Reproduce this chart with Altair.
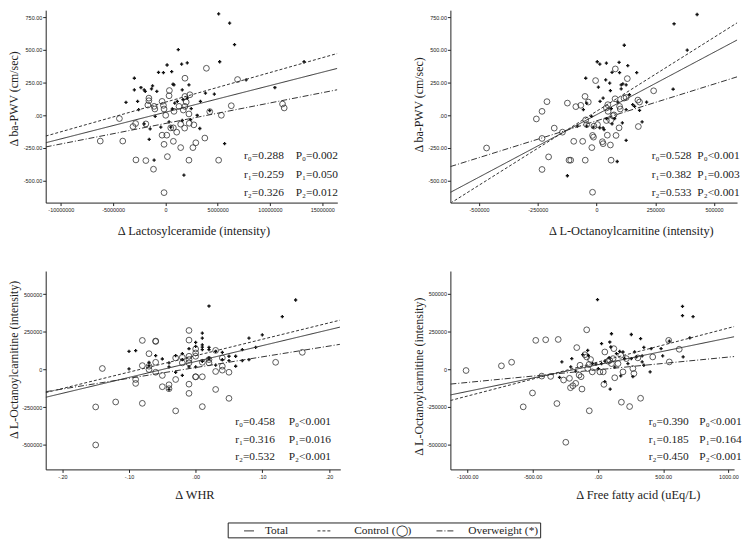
import altair as alt
import pandas as pd

SERIF = "Liberation Serif"
SANS = "Liberation Sans"
INK = "#222222"

# ---------------- Panel 1: Lactosylceramide (x, millions) vs ba-PWV ----------------
p1_ctrl_x = [-6.23, -4.08, -4.40, -3.10, -2.85, -2.82, -1.87, -1.14, -1.58, -1.58, -1.68, -1.87, -1.01, -1.08,
             -0.32, -0.19, -0.13, 0.38, 0.35, 0.03, -0.32, 0.13, -0.13, 0.19, 0.51, 0.76, 1.08, 0.76, 1.46, 1.87,
             1.87, 1.87, 1.71, 1.99, 2.25, 2.28, 2.34, 1.46, 1.84, 2.72, 2.63, 2.91, 3.77, 2.25, 3.92, 4.24, 5.09,
             5.35, 6.30, 6.90, 11.20, 11.36, -0.13, 0.82, 1.30]
p1_ctrl_y = [-197, -197, -25, -86, -63, -341, -346, -412, 131, 111, 78, -66, 48, 68, 106, 76, 48, 189, 149, 0,
             -152, -152, -222, -316, -96, -96, -129, -199, -68, 144, 283, 68, 40, 101, 10, -61, 157, -247, -98, -73,
             -247, -210, -174, -343, 359, 28, -343, 0, 73, 273, 86, 56, -591, 30, 68]
p1_ow_x = [5.09, 6.14, 6.61, 1.23, 1.55, 2.09, 5.19, 0.16, -0.66, -0.19, 0.60, -2.97, -2.97, -2.34, -2.03, -1.93,
           -1.33, -1.23, -0.82, -3.77, -2.66, -2.56, -2.03, -1.46, -0.98, -0.44, 0.35, 0.51, 0.66, 0.89, 0.73, 0.82,
           1.14, 1.61, 1.68, 2.25, 2.47, 2.41, 3.04, 3.35, 3.29, 3.83, 4.68, 4.24, 7.72, 10.47, 13.26, -1.55, -1.08,
           1.77, 5.66, 2.09, 1.61]
p1_ow_y = [775, 704, 540, 502, 391, 401, 409, 384, 328, 326, 333, 283, 194, 212, 194, 182, 202, 225, 182, 98, 106,
           43, -66, -104, -8, -91, -51, -91, 48, 93, 237, 232, 106, 194, 119, 232, 51, -33, 0, 106, -101, 169, 162,
           35, 270, 212, 409, -184, -343, -457, -217, 131, -40]
p1_line_x = [-11.45, 16.44]
p1_total = [-210, 358]
p1_control = [-159, 472]
p1_overweight = [-242, 195]
p1_r = ["r\u2080=0.288", "r\u2081=0.259", "r\u2082=0.326"]
p1_p = ["P\u2080=0.002", "P\u2081=0.050", "P\u2082=0.012"]

# ---------------- Panel 2: L-Octanoylcarnitine (x, thousands) vs ba-PWV ----------------
p2_ctrl_x = [-468, -232, -211, -232, -256, -180, -145, -124, -88, -67, -49, -35, -46, -42, -204, -232, -117, -110,
             -48, -97, -59, -17, -13, -20, -4, -17, -11, 4, 25, 28, 46, 59, 62, 42, 48, 49, 60, 70, 74, 79, 83, 80,
             96, 98, 101, 117, 131, 176, 183, 178, 243, 42, 126]
p2_ctrl_y = [-250, -177, 104, 30, -28, -98, -129, 93, 66, 76, 144, 101, -35, -71, -318, -414, -343, -343, -343,
             -199, -199, -154, -167, -247, 265, -588, -83, -71, -202, -217, -152, -227, -343, 56, 81, 30, -40, -3, 3,
             126, -154, 354, -96, 68, 48, 131, 280, 116, 101, -86, 187, -40, 136]
p2_ow_x = [428, 330, 386, 326, 118, 3, 14, 42, 96, 66, 98, 133, -46, 39, 56, 8, 59, 105, 112, 126, 171, 140, -42,
           -56, 15, 28, 63, 91, 126, 162, 183, 213, 194, -21, -14, 14, 32, -42, 28, 66, 110, 126, 88, -124, -81, 77,
           42, 105, 154]
p2_ow_y = [770, 699, 497, 199, 535, 409, 391, 399, 404, 328, 326, 379, 283, 270, 245, 215, 189, 202, 240, 232, 326,
           157, 93, 43, 106, 131, 51, 101, 43, 68, 38, 101, -51, -8, -91, -96, -109, -83, -96, -66, -58, -192, -353,
           -462, -83, -25, -25, 232, 81]
p2_line_x = [-622, 615]
p2_total = [-589, 591]
p2_control = [-672, 725]
p2_overweight = [-392, 303]
p2_r = ["r\u2080=0.528", "r\u2081=0.382", "r\u2082=0.533"]
p2_p = ["P\u2080<0.001", "P\u2081=0.003", "P\u2082<0.001"]

# ---------------- Panel 3: WHR vs L-Octanoylcarnitine (y, thousands) ----------------
p3_ctrl_x = [-0.15, -0.15, -0.14, -0.12, -0.08, -0.08, -0.09, -0.09, -0.08, -0.07, -0.07, -0.07, -0.06, -0.06,
             -0.06, -0.06, -0.05, -0.05, -0.04, -0.04, -0.03, -0.03, -0.03, -0.02, -0.02, -0.01, -0.01, -0.01, -0.01,
             -0.01, -0.01, 0.00, 0.00, 0.00, 0.00, 0.00, 0.01, 0.01, 0.01, 0.02, 0.02, 0.03, 0.03, 0.03, 0.04, 0.04,
             0.04, 0.05, 0.05, 0.12, 0.16, -0.01]
p3_ctrl_y = [-500, -248, 7, -215, -224, 193, -66, -92, 26, 105, 22, 0, 186, 189, 48, -18, -39, -114, -101, -127,
             -66, 77, -274, 81, 44, 88, 259, 195, 66, -97, -158, 136, 110, 88, -48, -48, -48, -246, 48, 66, 44, 127,
             -13, -132, 22, -4, 77, -18, -191, 48, 114, 44]
p3_ow_x = [0.15, 0.13, 0.02, 0.10, 0.08, 0.09, 0.07, 0.08, 0.06, 0.06, 0.05, 0.04, 0.03, 0.02, 0.02, 0.02, 0.01,
           0.01, 0.01, 0.01, 0.00, 0.00, -0.01, -0.01, -0.02, -0.02, -0.03, -0.03, -0.04, -0.04, -0.04, -0.05, -0.06,
           -0.07, -0.07, -0.09, -0.10, -0.10, 0.01, 0.00, 0.03, 0.04, 0.02, 0.01, 0.05, -0.02, 0.07]
p3_ow_y = [461, 351, 421, 230, 208, 147, 59, 66, 22, 88, 59, 114, 29, 147, 132, 70, 241, 164, 208, 132, 180, 18, 18,
           138, 105, -39, -18, 92, 44, 18, -132, 70, 92, 48, 26, 125, 121, 4, 149, 153, 121, 66, 77, 55, 88, 66, 132]
p3_line_x = [-0.225, 0.2164]
p3_total = [-184, 281]
p3_control = [-153, 327]
p3_overweight = [-147, 167]
p3_r = ["r\u2080=0.458", "r\u2081=0.316", "r\u2082=0.532"]
p3_p = ["P\u2080<0.001", "P\u2081=0.016", "P\u2082<0.001"]

# ---------------- Panel 4: Free fatty acid vs L-Octanoylcarnitine (y, thousands) ----------------
p4_ctrl_x = [-1010, -739, -661, -572, -476, -400, -304, -501, -314, -430, -362, -263, -246, -218, -210, -192, -170,
             -162, -144, -129, -122, -137, -99, -86, -68, -78, -56, -86, -66, -43, 15, 41, 46, 53, 78, 91, 116, 122,
             129, 154, 175, 192, 180, 218, 243, 268, 306, 327, 420, 542, 547, 623, 276, 104]
p4_ctrl_y = [-9, 22, 46, -250, 191, 195, 197, -158, -228, -46, -48, -72, -485, -61, -123, -110, -94, 143, -39, -50,
             -132, 26, 96, 81, 31, 4, 64, 261, -276, -18, -18, -18, -101, 114, 53, 59, 70, 136, -57, 37, 92, -18,
             -219, 70, -248, 4, 75, -193, 81, 191, 48, 132, -29, 37]
p4_ow_x = [-3, 648, 648, 729, 704, 547, 653, 496, 484, 400, 352, 339, 339, 352, 327, 256, 281, 296, 268, 205, 192,
           175, 104, 91, 99, 86, 94, 53, 28, 28, -15, -40, -73, -78, -116, -170, -208, -276, -294, 53, 129, 142, 167,
           230, 256, 408, -200, 3]
p4_ow_y = [461, 417, 355, 349, 208, 186, 81, 88, 136, -18, 26, 48, 88, 145, 202, 230, 114, 81, -50, 70, 114, -44,
           235, 180, 147, 77, -132, 53, 169, 37, 33, 37, 92, 125, 96, -13, 15, 48, -55, -83, 13, 103, 118, 37, 70,
           136, 70, 4]
p4_line_x = [-1130, 1094]
p4_total = [-171, 224]
p4_control = [-208, 294]
p4_overweight = [-99, 88]
p4_r = ["r\u2080=0.390", "r\u2081=0.185", "r\u2082=0.450"]
p4_p = ["P\u2080<0.001", "P\u2081=0.164", "P\u2082<0.001"]

groups = ["Total", "Control", "Overweight"]
legend_labels = ["Total", "Control (\u25EF)", "Overweight (*)"]
DASHES = [[1, 0], [3, 2], [6, 2, 1, 2]]

MINUS = "\u2212"
fmt_2f0 = "datum.value == 0 ? '.00' : replace(format(datum.value, '.2f'), '" + MINUS + "', '-')"
fmt_int = "replace(format(datum.value, 'd'), '" + MINUS + "', '-')"
fmt_whr = "replace(replace(format(datum.value, '.2f'), '" + MINUS + "', '-'), '0.', '.')"


def points_df(cx, cy, ox, oy, xm, ym):
    rows = [{"x": a * xm, "y": b * ym, "g": "Control"} for a, b in zip(cx, cy)]
    rows += [{"x": a * xm, "y": b * ym, "g": "Overweight"} for a, b in zip(ox, oy)]
    return pd.DataFrame(rows)


def lines_df(lx, tot, ctl, ow, xm, ym):
    rows = []
    for g, ys in zip(groups, [tot, ctl, ow]):
        for a, b in zip(lx, ys):
            rows.append({"x": a * xm, "y": b * ym, "g": g})
    return pd.DataFrame(rows)


def text_layer(txt, px, py, size=11.5):
    return alt.Chart(pd.DataFrame({"t": [txt]})).mark_text(
        align="left", baseline="middle", font=SERIF, fontSize=size, color=INK
    ).encode(x=alt.value(px), y=alt.value(py), text="t:N")


def panel(pts, lns, xdom, ydom, xticks, yticks, xfmt, yfmt, xtitle, ytitle, w, h,
          rtexts, ptexts, rx, px_, ty, xtitle_x, ytitle_y, xtitle_pad, extra=()):
    xs = alt.Scale(domain=xdom, nice=False, zero=False)
    ys = alt.Scale(domain=ydom, nice=False, zero=False)
    xax = alt.Axis(values=xticks, labelExpr=xfmt, title=xtitle, titleX=xtitle_x, titlePadding=xtitle_pad,
                   labelPadding=2)
    yax = alt.Axis(values=yticks, labelExpr=yfmt, title=ytitle, titleX=-25, titleY=ytitle_y,
                   titleFontSize=12, labelPadding=1)
    X = alt.X("x:Q", scale=xs, axis=xax)
    Y = alt.Y("y:Q", scale=ys, axis=yax)
    ctrl = alt.Chart(pts[pts.g == "Control"]).mark_point(
        shape="circle", filled=False, size=34, strokeWidth=0.8, color="#333333", opacity=1
    ).encode(x=X, y=Y)
    ow = alt.Chart(pts[pts.g == "Overweight"]).mark_point(
        shape="cross", filled=True, size=11, color="#111111", opacity=1
    ).encode(x=X, y=Y)
    ln = alt.Chart(lns).mark_line(clip=True, color="#333333", strokeWidth=1).encode(
        x=X, y=Y, detail="g:N",
        strokeDash=alt.StrokeDash("g:N", scale=alt.Scale(domain=groups, range=DASHES), legend=None),
    )
    layers = [ctrl, ow, ln]
    for i in range(3):
        layers.append(text_layer(rtexts[i], rx, ty[i]))
        layers.append(text_layer(ptexts[i], px_, ty[i]))
    layers.extend(extra)
    return alt.layer(*layers).properties(width=w, height=h)


# legend box drawn under panel 3 (positions relative to panel 3 plot area)
one = pd.DataFrame({"k": [0]})
leg_layers = [alt.Chart(one).mark_rect(fill="white", stroke=INK, strokeWidth=1).encode(
    x=alt.value(184), x2=alt.value(499), y=alt.value(254), y2=alt.value(269))]
leg_line_x = [(200, 210), (274, 288), (394, 411)]
leg_text_x = [221, 311, 426]
for i in range(3):
    leg_layers.append(alt.Chart(one).mark_rule(color="#333333", strokeWidth=1, strokeDash=DASHES[i]).encode(
        x=alt.value(leg_line_x[i][0]), x2=alt.value(leg_line_x[i][1]), y=alt.value(262), y2=alt.value(262)))
    leg_layers.append(text_layer(legend_labels[i], leg_text_x[i], 262, 11.5))

p1 = panel(points_df(p1_ctrl_x, p1_ctrl_y, p1_ow_x, p1_ow_y, 1e6, 1),
           lines_df(p1_line_x, p1_total, p1_control, p1_overweight, 1e6, 1),
           [-11.45e6, 16.44e6], [-667, 803],
           [-10000000, -5000000, 0, 5000000, 10000000, 15000000], [-500, -250, 0, 250, 500, 750],
           fmt_int, fmt_2f0, "\u0394 Lactosylceramide (intensity)", "\u0394 ba-PWV (cm/sec)",
           294, 194, p1_r, p1_p, 200, 252, [147, 166, 184], 149, 89, 12)

p2 = panel(points_df(p2_ctrl_x, p2_ctrl_y, p2_ow_x, p2_ow_y, 1e3, 1),
           lines_df(p2_line_x, p2_total, p2_control, p2_overweight, 1e3, 1),
           [-622000, 598000], [-667, 803],
           [-500000, -250000, 0, 250000, 500000], [-500, -250, 0, 250, 500, 750],
           fmt_int, fmt_2f0, "\u0394 L-Octanoylcarnitine (intensity)", "\u0394 ba-PWV (cm/sec)",
           289, 194, p2_r, p2_p, 203, 249, [147, 166, 184], 182, 95, 12)

p3 = panel(points_df(p3_ctrl_x, p3_ctrl_y, p3_ow_x, p3_ow_y, 1, 1e3),
           lines_df(p3_line_x, p3_total, p3_control, p3_overweight, 1, 1e3),
           [-0.225, 0.217], [-662000, 653000],
           [-0.2, -0.1, 0, 0.1, 0.2], [-500000, -250000, 0, 250000, 500000],
           fmt_whr, fmt_int, "\u0394 WHR", "\u0394 L-Octanoylcarnitine (intensity)",
           297, 200, p3_r, p3_p, 191, 245, [152, 170, 188], 150, 89, 9, leg_layers)

p4 = panel(points_df(p4_ctrl_x, p4_ctrl_y, p4_ow_x, p4_ow_y, 1, 1e3),
           lines_df(p4_line_x, p4_total, p4_control, p4_overweight, 1, 1e3),
           [-1130, 1043], [-665000, 651000],
           [-1000, -500, 0, 500, 1000], [-500000, -250000, 0, 250000, 500000],
           fmt_2f0, fmt_int, "\u0394 Free fatty acid (uEq/L)", "\u0394 L-Octanoylcarnitine (intensity)",
           286, 200, p4_r, p4_p, 200, 251, [152, 170, 188], 189, 106, 9)

chart = alt.concat(p1, p2, p3, p4, columns=2, spacing={"row": 69, "column": 111}, bounds="flush").properties(
    padding=0, background="white"
).configure_view(stroke=None).configure_axis(
    grid=False, domainColor=INK, tickColor=INK, tickSize=3, domainWidth=1,
    labelFont=SANS, labelFontSize=5.5, labelColor=INK,
    titleFont=SERIF, titleFontSize=12.5, titleFontWeight="normal", titleColor=INK,
)

chart.save("out.html", embed_options={"renderer": "svg", "actions": False})
